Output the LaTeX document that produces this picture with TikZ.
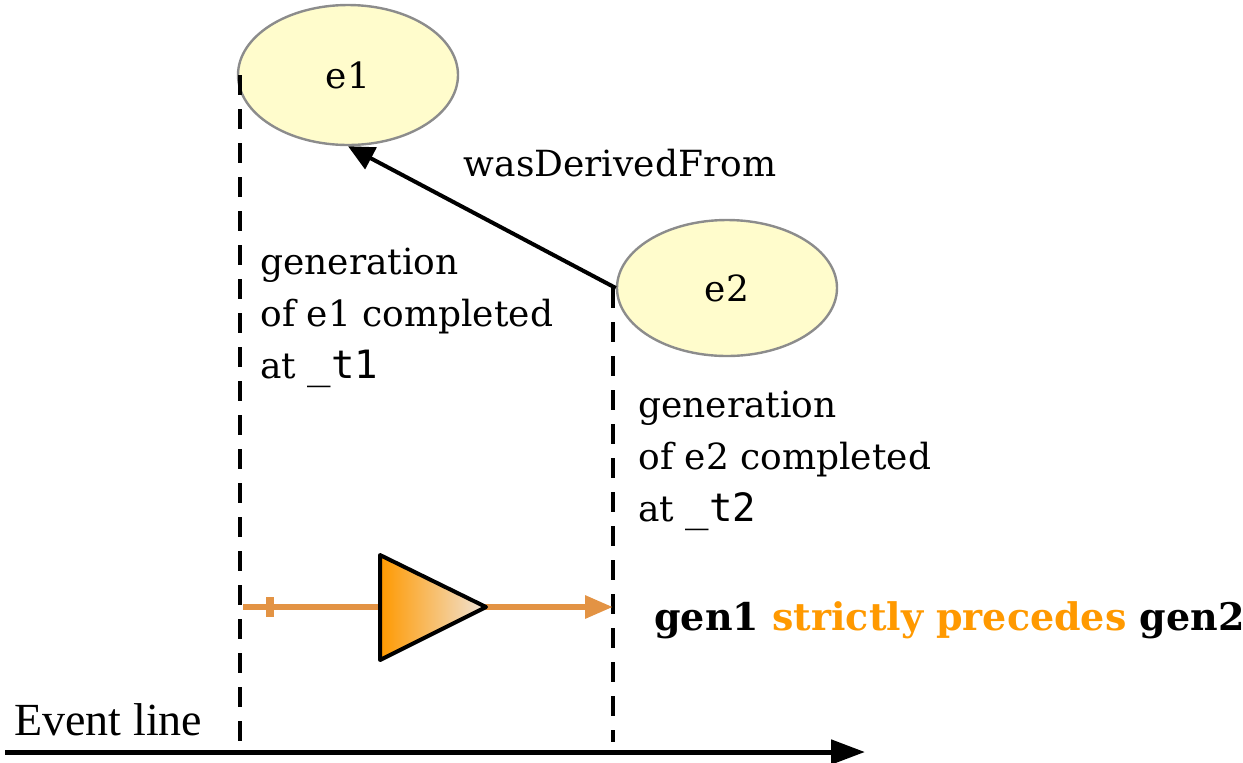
\documentclass[tikz,border=0pt]{standalone}
\usepackage{fontspec}
\setmainfont{DejaVu Serif}
\setmonofont{DejaVu Sans Mono}
\newfontfamily\eventfont{Liberation Serif}
\usetikzlibrary{arrows.meta,shapes.geometric}
\definecolor{entityfill}{RGB}{255,252,204}
\definecolor{entityline}{RGB}{140,140,140}
\definecolor{precorange}{RGB}{227,147,68}
\definecolor{textorange}{RGB}{255,153,0}
\definecolor{fadeorange}{RGB}{240,228,216}

\tikzset{
    entity/.style={ellipse, draw=entityline, line width=1.2pt, fill=entityfill, font=\fontsize{18}{20}\selectfont},
    timeline/.style={line width=2pt, dash pattern=on 10pt off 7pt},
    genlabel/.style={anchor=north west, align=left, inner sep=0pt, font=\fontsize{18}{26}\selectfont}
}
\newcommand{\timestamp}[1]{{\fontsize{19.5}{26}\selectfont\texttt{#1}}}

\begin{document}
\begin{tikzpicture}[x=0.5pt,y=-0.5pt]
    \useasboundingbox (0,0) rectangle (1243,762);

    \node[entity, minimum width=110pt, minimum height=70pt] (e1) at (348,75) {e1};
    \node[entity, minimum width=110pt, minimum height=68pt] (e2) at (727,288) {e2};

    \coordinate (e1top) at (240,75);
    \coordinate (e1bot) at (240,742);
    \coordinate (e2top) at (613,288);
    \coordinate (e2bot) at (613,742);
    \draw[timeline] (e1top) -- (e1bot);
    \draw[timeline] (e2top) -- (e2bot);

    \draw[-{Triangle[length=13pt,width=12pt]}, line width=2pt] (e2.west) -- (e1.south);
    \node[inner sep=0pt, font=\fontsize{18}{20}\selectfont] (derived) at (620,163) {wasDerivedFrom};

    \node[genlabel] (gen1) at (260,248) {generation\\of e1 completed\\at \timestamp{\_t1}};
    \node[genlabel] (gen2) at (638,391) {generation\\of e2 completed\\at \timestamp{\_t2}};

    % precedence
    \coordinate (pstart) at (243,607);
    \coordinate (pend) at (613,607);
    \draw[precorange, line width=3pt, -{Triangle[length=14pt,width=11pt]}] (pstart) -- (pend);
    \coordinate (tick) at (270,607);
    \draw[precorange, line width=4pt] ([yshift=5pt]tick) -- ([yshift=-5pt]tick);
    \draw[line width=2pt, line join=round, left color=textorange, right color=fadeorange] (380,555) -- (380,660) -- (486,607) -- cycle;

    \node[anchor=west, inner sep=0pt, font=\fontsize{19}{22}\selectfont\bfseries] (prec) at (654,620) {gen1 \textcolor{textorange}{strictly precedes} gen2};

    % event line
    \coordinate (evstart) at (5,752);
    \coordinate (evend) at (865,752);
    \draw[line width=2.5pt, -{Triangle[length=17pt,width=12pt]}] (evstart) -- (evend);
    \node[anchor=west, inner sep=0pt, font=\eventfont\fontsize{23}{26}\selectfont] (evlabel) at (14,720) {Event line};
\end{tikzpicture}
\end{document}
